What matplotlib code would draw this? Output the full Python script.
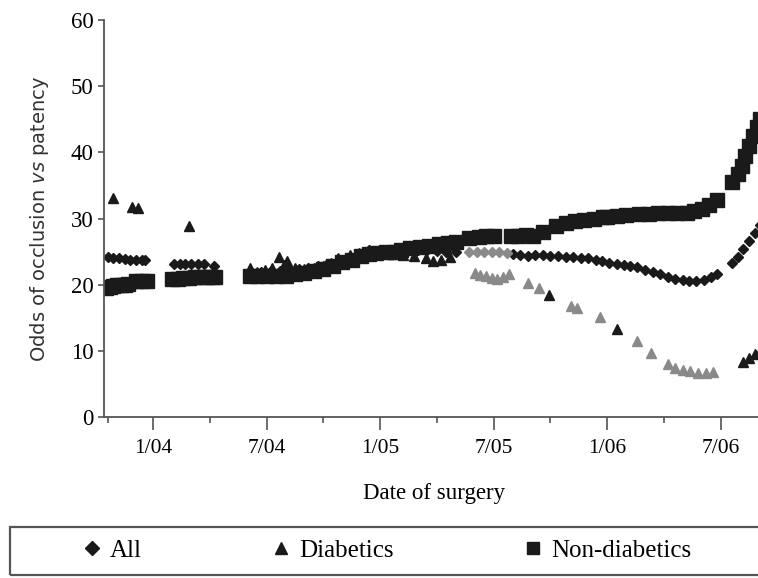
import numpy as np
import matplotlib.pyplot as plt
from matplotlib.lines import Line2D
from matplotlib.patches import Rectangle

# x = months since January 2004
tick_pos = [0, 6, 12, 18, 24, 30]
tick_labels = ["1/04", "7/04", "1/05", "7/05", "1/06", "7/06"]
minor_pos = [-2.4, 3, 9, 15, 21, 27]

all_m = [-2.4, -2.1, -1.8, -1.5, -1.2, -0.9, -0.6, -0.4,
         1.1, 1.4, 1.7, 2.0, 2.4, 2.7, 3.2,
         5.2, 5.7, 6.2, 6.7, 7.2, 7.7, 8.2, 8.7, 9.2, 9.7, 10.2, 10.7, 11.2, 11.4,
         12.0, 12.5, 13.0, 13.5, 14.0, 14.5, 15.0, 15.5, 16.0,
         16.7, 17.1, 17.5, 17.9, 18.3, 18.7,
         19.0, 19.4, 19.8, 20.2, 20.6, 21.0,
         21.4, 21.8, 22.2, 22.6, 23.0, 23.4, 23.7,
         24.1, 24.5, 24.9, 25.2,
         25.6, 26.0, 26.4, 26.8, 27.2, 27.6, 28.0,
         28.3, 28.7, 29.1, 29.5, 29.8,
         30.6, 30.9, 31.2, 31.5, 31.8, 32.1]
all_v = [24.2, 24.1, 24.0, 23.9, 23.8, 23.8, 23.8, 23.8,
         23.2, 23.2, 23.2, 23.2, 23.1, 23.1, 22.9,
         22.0, 22.0, 22.0, 22.1, 22.2, 22.4, 22.6, 22.8, 23.1, 23.5, 23.9, 24.3, 24.7, 25.2,
         25.0, 25.1, 25.2, 25.2, 25.2, 25.2, 25.1, 25.0, 25.0,
         25.0, 24.9, 24.9, 24.9, 24.9, 24.8,
         24.6, 24.5, 24.4, 24.5, 24.5, 24.4,
         24.3, 24.2, 24.2, 24.1, 24.0, 23.8, 23.6,
         23.3, 23.2, 23.0, 22.8,
         22.7, 22.3, 21.9, 21.6, 21.2, 20.9, 20.7,
         20.6, 20.6, 20.7, 21.1, 21.6,
         23.3, 24.2, 25.4, 26.6, 27.8, 29.0]

diab_m = [-2.1, -1.1, -0.8, 1.9,
          5.1, 5.5, 5.9, 6.3, 6.65, 6.9, 7.1, 7.5, 8.0, 8.5, 9.0, 9.4, 9.8, 10.1, 10.4, 10.7, 10.9, 11.2,
          12.0, 12.6, 13.2, 13.8, 14.4, 14.8, 15.2, 15.7,
          17.0, 17.3, 17.6, 17.9, 18.2, 18.5, 18.8,
          19.8, 20.4, 20.9, 22.1, 22.4, 23.6, 24.5, 25.6, 26.3,
          27.2, 27.6, 28.0, 28.4, 28.8, 29.2, 29.6,
          31.2, 31.5, 31.8, 32.1]
diab_v = [33.1, 31.7, 31.6, 28.9,
          22.6, 22.0, 22.2, 22.6, 24.2, 23.0, 23.6, 22.5, 22.4, 22.6, 22.9, 23.3, 24.0, 23.6, 24.5, 24.2, 24.8, 24.5,
          24.8, 24.6, 24.5, 24.3, 24.0, 23.6, 23.7, 24.2,
          21.8, 21.5, 21.3, 21.0, 20.8, 21.2, 21.6,
          20.2, 19.5, 18.4, 16.8, 16.5, 15.1, 13.3, 11.5, 9.7,
          8.0, 7.4, 7.1, 6.9, 6.7, 6.7, 6.8,
          8.3, 8.9, 9.5, 10.0]

nond_m = [-2.5, -2.3, -2.1, -1.9, -1.7, -1.5, -1.3,
          -0.9, -0.6, -0.3,
          1.0, 1.3, 1.6, 1.9, 2.2, 2.5, 2.8, 3.1, 3.3,
          5.1, 5.5, 6.0, 6.5, 7.0, 7.5, 8.0, 8.5, 9.0, 9.5, 10.0, 10.5, 11.0, 11.4,
          11.8, 12.3, 12.8,
          13.1, 13.6, 14.1, 14.6, 15.1, 15.6, 16.0,
          16.7, 17.2, 17.6, 18.0,
          18.9, 19.3, 19.7, 20.1, 20.6,
          21.3, 21.8, 22.3, 22.8, 23.3, 23.8,
          24.0, 24.5, 25.0,
          25.7, 26.2, 26.7, 27.2, 27.7,
          28.2, 28.6, 29.0, 29.4, 29.8,
          30.6, 30.9, 31.1, 31.3, 31.5, 31.7, 31.9, 32.1]
nond_v = [19.5, 19.6, 19.8, 19.9, 20.0, 20.0, 20.1,
          20.5, 20.6, 20.6,
          20.8, 20.9, 21.0, 21.0, 21.1, 21.1, 21.2, 21.2, 21.2,
          21.3, 21.3, 21.3, 21.3, 21.4, 21.6, 21.8, 22.1, 22.4, 22.9, 23.4, 23.8, 24.3, 24.7,
          24.8, 24.9, 25.0,
          25.3, 25.5, 25.7, 25.9, 26.1, 26.3, 26.5,
          27.0, 27.2, 27.3, 27.3,
          27.4, 27.4, 27.5, 27.4, 28.0,
          28.9, 29.3, 29.6, 29.8, 30.0, 30.2,
          30.3, 30.4, 30.5,
          30.7, 30.7, 30.8, 30.8, 30.8,
          30.9, 31.2, 31.5, 32.1, 32.8,
          35.6, 36.8, 38.0, 39.5, 41.0, 42.5, 43.8, 45.0]

all_m, all_v = np.array(all_m), np.array(all_v)
diab_m, diab_v = np.array(diab_m), np.array(diab_v)
nond_m, nond_v = np.array(nond_m), np.array(nond_v)

serif = "Liberation Serif"
blk = "#1a1a1a"
gry = "#8a8a8a"

fig = plt.figure(figsize=(7.58, 5.78), dpi=100)
ax = fig.add_axes([0.137, 0.2785, 0.87, 0.6865])

# Non-diabetics
ax.plot(nond_m, nond_v, ls="none", marker="s", ms=9.5, color=blk, mec=blk)
# All (some faded points)
g = (all_m > 16.5) & (all_m < 18.85)
ax.plot(all_m[~g], all_v[~g], ls="none", marker="D", ms=5, color=blk, mec=blk)
ax.plot(all_m[g], all_v[g], ls="none", marker="D", ms=5, color=gry, mec=gry)
# Diabetics (some faded points)
g = (diab_m > 16.5) & (diab_m < 30) & ~np.isin(diab_m, [20.9, 24.5])
ax.plot(diab_m[~g], diab_v[~g], ls="none", marker="^", ms=7, color=blk, mec=blk)
ax.plot(diab_m[g], diab_v[g], ls="none", marker="^", ms=7, color=gry, mec=gry)

ax.set_xlim(-2.6, 32.25)
ax.set_ylim(0, 60)
ax.set_xticks(tick_pos)
ax.set_xticklabels(tick_labels, fontfamily=serif, fontsize=15.5)
ax.set_xticks(minor_pos, minor=True)
ax.set_yticks(range(0, 61, 10))
ax.set_yticklabels([str(v) for v in range(0, 61, 10)], fontfamily=serif, fontsize=16.5)
ax.tick_params(axis="x", which="major", length=9, width=1.2, color="#555555", pad=7)
ax.tick_params(axis="x", which="minor", length=4.5, width=1.2, color="#555555")
ax.tick_params(axis="y", length=4.5, width=1.2, color="#555555", pad=3)
for s in ["top", "right"]:
    ax.spines[s].set_visible(False)
for s in ["left", "bottom"]:
    ax.spines[s].set_color("#555555")
    ax.spines[s].set_linewidth(1.3)

ax.set_xlabel("Date of surgery", fontfamily=serif, fontsize=16.5, labelpad=18)
ax.set_ylabel(r"Odds of occlusion $\it{vs}$ patency", fontsize=14, color="#333333", labelpad=14)

# legend box
fig.add_artist(Rectangle((0.013, 0.006), 1.0, 0.082, transform=fig.transFigure,
                         fill=False, edgecolor="#555555", linewidth=1.6))
handles = [Line2D([], [], ls="none", marker="D", ms=7, color=blk),
           Line2D([], [], ls="none", marker="^", ms=8, color=blk),
           Line2D([], [], ls="none", marker="s", ms=8, color=blk)]
fig.legend(handles, ["All", "Diabetics", "Non-diabetics"], loc="center left",
           bbox_to_anchor=(0.092, 0.047), ncol=3, frameon=False,
           prop={"family": serif, "size": 18}, handlelength=0.75,
           handletextpad=0.35, columnspacing=5.2, borderpad=0)

fig.savefig("out.png", dpi=100)
